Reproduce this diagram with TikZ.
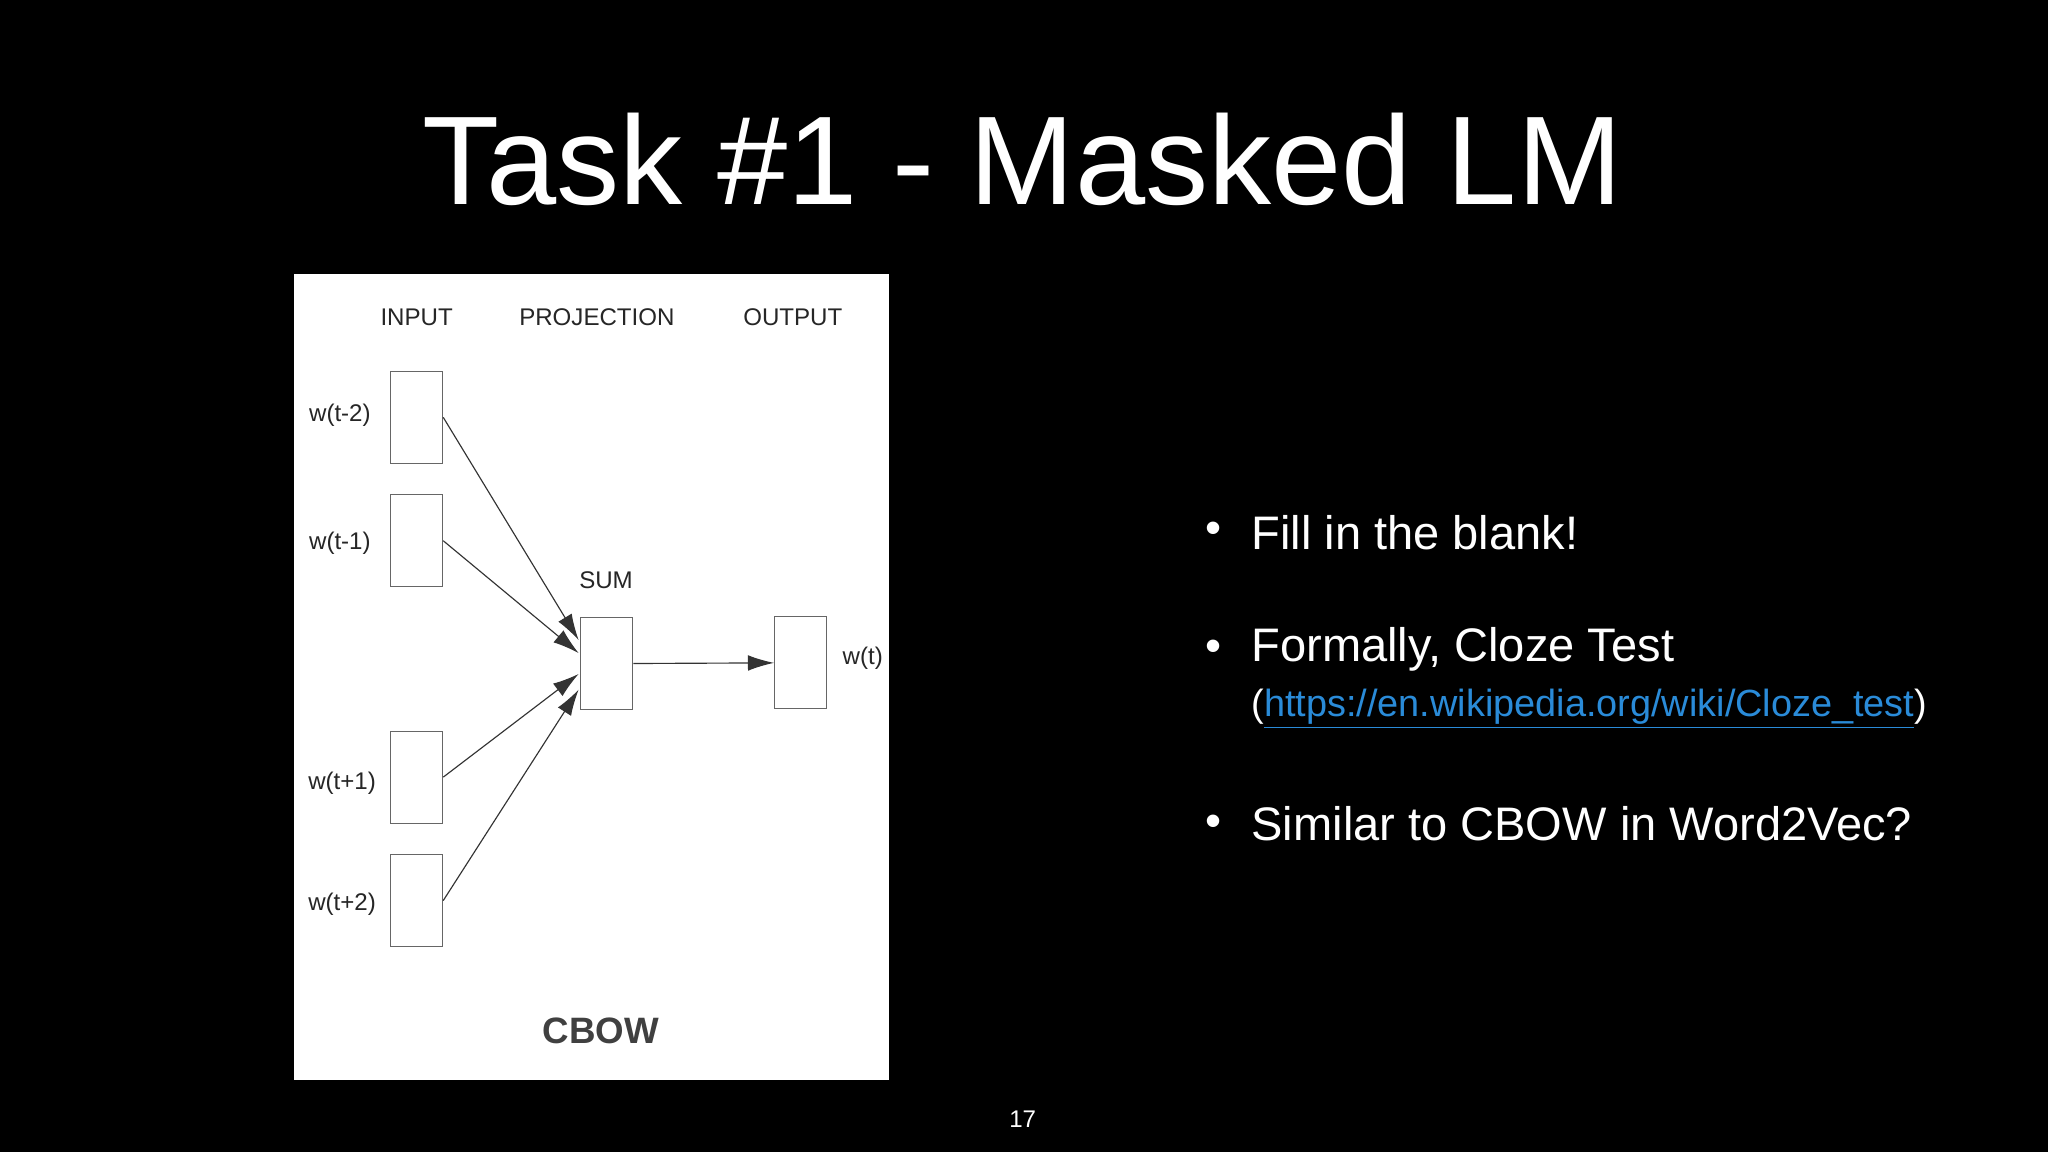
\documentclass[tikz,border=0pt]{standalone}
\usepackage{fontspec}
\setmainfont{Liberation Sans}
\usetikzlibrary{arrows.meta}
\definecolor{linkblue}{HTML}{2A8BD8}
\begin{document}
\begin{tikzpicture}[x=0.02cm,y=-0.02cm,
  unit/.style={draw=black!60,line width=0.4pt,minimum width=0.8cm,minimum height=1.41cm,inner sep=0},
  lbl/.style={font=\fontsize{10.5pt}{12pt}\selectfont,text=black!85},
  arr/.style={line width=0.5pt,draw=black!80,-{Latex[length=0.4cm,width=0.24cm]}},
  bullet/.style={anchor=west,text=white,font=\fontsize{20.5pt}{24pt}\selectfont}]
\fill[black] (0,0) rectangle (1568,882);
\useasboundingbox (0,0) rectangle (1568,882);
\node[text=white,font=\fontsize{55pt}{60pt}\selectfont] (title) at (783,122) {Task \#1 - Masked LM};
\fill[white] (225,210) rectangle (681,827);
\node[lbl] (in) at (319,243) {INPUT};
\node[lbl] (proj) at (457,243) {PROJECTION};
\node[lbl] (out) at (607,243) {OUTPUT};
\node[unit] (i1) at (319,319.5) {};
\node[unit] (i2) at (319,414) {};
\node[unit] (i3) at (319,595) {};
\node[unit] (i4) at (319,689.5) {};
\node[lbl,anchor=east] (l1) at (290,318) {w(t-2)};
\node[lbl,anchor=east] (l2) at (290,416) {w(t-1)};
\node[lbl,anchor=east] (l3) at (294,600) {w(t+1)};
\node[lbl,anchor=east] (l4) at (294,692) {w(t+2)};
\node[lbl] (sumlbl) at (464,444) {SUM};
\node[unit] (sum) at (464.5,508) {};
\node[unit] (o) at (613,507.5) {};
\node[lbl,anchor=west] (wt) at (639,504) {w(t)};
\coordinate (e1) at (443,490);
\coordinate (e2) at (443,500);
\coordinate (e3) at (443,516);
\coordinate (e4) at (443,528);
\draw[arr] (i1.east) -- (e1);
\draw[arr] (i2.east) -- (e2);
\draw[arr] (i3.east) -- (e3);
\draw[arr] (i4.east) -- (e4);
\draw[arr] (sum.east) -- (o.west);
\node[font=\bfseries\fontsize{16pt}{18pt}\selectfont,text=black!75] (cbow) at (460,789) {CBOW};
\node[text=white,font=\fontsize{20pt}{24pt}\selectfont] (b1) at (929,408) {•};
\node[text=white,font=\fontsize{20pt}{24pt}\selectfont] (b2) at (929,498) {•};
\node[text=white,font=\fontsize{20pt}{24pt}\selectfont] (b3) at (929,632) {•};
\node[bullet] (t1) at (952,408) {Fill in the blank!};
\node[bullet] (t2) at (952,497) {Formally, Cloze Test};
\node[anchor=west,text=white,font=\fontsize{16.5pt}{20pt}\selectfont] (t2b) at (952,543) {(\textcolor{linkblue}{\underline{https://en.wikipedia.org/wiki/Cloze\_test}})};
\node[bullet] (t3) at (952,631) {Similar to CBOW in Word2Vec?};
\node[text=white,font=\fontsize{10.5pt}{12pt}\selectfont] (pg) at (783,857) {17};
\end{tikzpicture}
\end{document}
